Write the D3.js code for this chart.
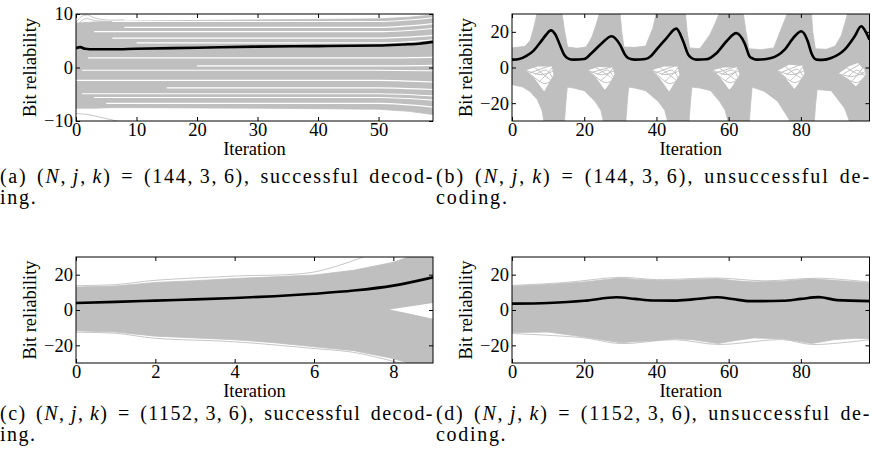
<!DOCTYPE html>
<html><head><meta charset="utf-8">
<script src="https://cdn.jsdelivr.net/npm/d3@7"></script>
<style>
body{margin:0;background:#fff}
svg{display:block}
text{font-family:"Liberation Serif","Times New Roman",serif;fill:#000}
</style></head>
<body><svg id="c" width="873" height="466"></svg>
<script>
// ================= DATA =================
// (a) N=144 successful
const aTicksX=[0,10,20,30,40,50], aTicksY=[-10,0,10];
const aMeanX=[0,0.7,1.5,3,6,10,20,30,40,50,54,57,59];
const aMeanY=[3.6,3.8,3.5,3.4,3.4,3.5,3.7,3.9,4.0,4.1,4.3,4.5,4.8];
const aEnvX=[0,3,6,10,30,50,55,59];
const aUpper=[8.3,8.5,8.6,8.7,8.9,9.1,9.4,9.8];
const aLower=[-7.6,-7.6,-7.5,-7.5,-7.6,-7.8,-8.2,-8.8];
const aGapStart=[6,8,3,6,10,2,20,1,0,15,1,3,5];
const aGapMid=[8.6,7.5,6.7,5.5,4.6,1.8,0.3,-0.5,-2.4,-3.8,-4.9,-5.6,-6.7];
const aGapEnd=[9.3,8.2,7.3,6.0,5.2,1.9,0.4,-0.6,-2.7,-4.1,-5.3,-6.1,-7.4];
const aOutliers=[
  [[0,8.4],[1,9.6],[2,9.8],[3,9.3],[5,8.9],[8,8.9]],
  [[0,7.8],[1.5,9.1],[3,8.8],[5,8.6]],
  [[0,-8.6],[2,-8.8],[4,-9.3],[6,-9.8],[8,-10.4]]
];

// (b) N=144 unsuccessful
const bTicksX=[0,20,40,60,80], bTicksY=[-20,0,20];
const bMeanX=[0,2,4,6,8,9.5,10.8,12,13.3,14.5,15.6,17,20,22,24.8,27.6,29.9,31.3,32.2,34,37,38.5,40,42.8,45.5,47.4,48.8,49.7,51,53.8,56.6,59.4,62.1,64.4,65.8,66.7,68,71.8,75.5,78.3,80.1,81.9,82.9,84.3,86,88.4,92.1,94.9,96.7,98.1,99];
const bMeanY=[4.4,4.8,6.5,9.5,14.5,18.5,20.8,18.5,12.5,7,5,4.4,4.8,8,13.5,17.5,12.8,7.2,5.3,4.4,4.8,6.5,10,16.5,21.8,14.7,7.2,5.3,4.4,4.6,8,14.7,19.3,13.7,6.2,5,4.4,5.3,10,17.5,20.3,14.7,8.1,4.4,4.3,5.3,10,17.5,23.1,19.4,15.6];
const bUpX=[0,3.6,5,6,7,13.8,14.6,15.4,18,20.5,22,23.3,24.3,29.9,30.4,31,34,37,39,40,48,48.5,49.2,52,54.8,56.3,57.5,64,64.8,65.6,69,72.5,74.6,76.4,82.9,83.3,84,87,89.5,91.2,92.5,93,99];
const bUpY=[11,11.9,15,22,31,31,20,11.5,10.8,11.5,16.5,24,31,31,20,11.5,11.3,12,22,31,31,20,11,10.5,18.4,25,31,31,20,10.5,10,11,22,31,31,20,10.5,10.2,12,18,27,31,31];
const bLoX=[0,3,5,7,8.3,8.9,14.5,14.9,15.3,17,20,23,24.6,25.4,31.5,31.9,32.3,34,37,40.5,42.3,43.2,49,49.4,49.8,52,55,57.5,59,59.9,65.7,66.1,66.5,69.9,73.6,76.4,77.3,83.7,84.1,84.5,88.4,92.1,93.6,99];
const bLoY=[-9.6,-11,-13.5,-18,-24,-31,-31,-20,-11,-11.5,-13,-19,-24,-31,-31,-20,-11,-11.5,-13,-19,-24,-31,-31,-20,-11,-11.5,-13,-19,-24,-31,-31,-20,-11,-13.4,-19,-28,-31,-31,-20,-12.4,-13,-22.8,-31,-31];
const bHoles=[
  [[3.8,-1.5],[7,0.5],[11,0.5],[11.5,-4],[9.6,-11],[8.9,-13.5],[6.2,-6]],
  [[21,-1.5],[24,0.3],[27.9,0],[28.4,-4],[26.5,-10.5],[25.7,-12.5],[23.2,-5.5]],
  [[38.8,-1.5],[42,0.5],[45.8,0.5],[46.4,-4],[44.3,-11],[43.5,-13.5],[40.9,-6]],
  [[55.5,-1.5],[58.5,0],[62.4,0],[63,-4],[61,-10.5],[60.2,-12.5],[57.6,-5.5]],
  [[73.5,-1.8],[76.7,1.5],[80.4,1],[81,-3.5],[79,-10],[78.2,-12],[75.6,-5.5]],
  [[90.4,-3.5],[93.2,0.5],[95.8,2.5],[97.6,-1.2],[98,-4],[96,-9],[95.2,-10.5],[92.8,-6]]
];
const bStrands=[
  [[3.8,-1.5],[8,-4],[11.5,-2]],[[4.2,-2],[9,-9],[11.8,-6]],[[6,0.5],[10,-6],[12,-9]],[[5,-3],[10.5,1]],[[6.5,-4],[9.5,-1.5],[11.5,-7]],[[7.5,-8],[10,-3],[11.2,0]],
  [[21,-1.5],[25,-4],[28.5,-1.5]],[[21.4,-2],[26,-8.5],[28.7,-6]],[[23,0.3],[27,-5],[28.8,-8]],[[22,-2.8],[27.5,0.3]],[[23.5,-4],[26.5,-1.5],[28.3,-6]],[[24.5,-7.5],[27,-3],[28,0]],
  [[38.8,-1.5],[42.7,-4],[46.2,-2]],[[39.2,-2],[43.7,-9],[46.5,-6]],[[40.7,0.5],[44.7,-6],[46.7,-9]],[[39.7,-3],[45.2,1]],[[41.3,-4],[44.3,-1.5],[46.3,-7]],[[42.3,-8],[44.8,-3],[46,0]],
  [[55.5,-1.5],[59.3,-4],[62.8,-2]],[[55.9,-2],[60.3,-8.5],[63.1,-6]],[[57.3,0],[61.3,-6],[63.3,-8]],[[56.3,-3],[61.8,0.3]],[[58,-4],[61,-1.5],[62.9,-6.5]],[[59,-7.5],[61.5,-3],[62.6,0]],
  [[73.5,-1.8],[77.3,-4],[80.8,-2]],[[73.9,-2.2],[78.3,-8.5],[81.1,-5]],[[75.3,1],[79.3,-5],[81.3,-7]],[[74.3,-3],[79.8,1.5]],[[76,-4],[79,-1],[80.9,-6]],[[77,-7.5],[79.5,-2.5],[80.6,0.5]],
  [[90.4,-3.5],[94.5,-5],[98,-2]],[[90.8,-3.8],[95.5,-8.5],[98.2,-4]],[[92.5,0],[96.5,-4],[98.3,-3]],[[91.5,-4],[96.5,2]],[[93,-5.5],[95.5,-1.5],[97.8,-5]],[[94,-8],[96.3,-2.5],[97.5,1]]
];

// (c) N=1152 successful
const cTicksX=[0,2,4,6,8], cTicksY=[-20,0,20];
const cMeanX=[0,1,2,3,4,5,6,7,8,9];
const cMeanY=[4,4.6,5.3,6,6.8,7.8,9.2,11,13.8,18.5];
const cEnvX=[0,1,2,3,4,5,6,7,8,8.5,9];
const cUpper=[13,13.6,15.6,16.6,17.8,18.8,19.8,22.5,27,31,31];
const cLower=[-11.8,-12.5,-14.8,-15.8,-16.8,-18.5,-20.8,-23,-27.5,-31,-31];
const cHoles=[[[7.9,0.3],[9,4],[9,-5],[8.3,-1.5]]];
const cOutliers=[
  [[0,13.8],[1,14.4],[2,16.8],[4,19.2],[6,21.5],[7.3,30.5]],
  [[0,-12.6],[1,-13.2],[2,-16],[4,-18],[6,-21.8],[7,-24],[8,-29],[8.4,-31]],
  [[7.9,0.2],[9,-1.2]]
];

// (d) N=1152 unsuccessful
const dTicksX=[0,20,40,60,80], dTicksY=[-20,0,20];
const dMeanX=[0,10,20,29,34,39,45,50,57,61,66,75,80,85,90,99];
const dMeanY=[3.6,4.0,5.2,7.2,6.3,5.4,5.3,6.0,7.2,6.2,5.0,5.2,6.3,7.3,5.6,5.0];
const dEnvX=[0,10,20,30,35,40,45,50,57,62,67,75,83,89,95,99];
const dUpper=[13.5,14.4,15.9,18.1,17.3,16.8,16.8,17.3,17.7,16.5,15.9,16.3,17.7,16.8,16,15.4];
const dLower=[-12.8,-12.5,-15.3,-18.5,-17.8,-17.2,-16.3,-16.8,-19,-17.2,-15.8,-16.3,-19,-16.8,-16,-16.3];
const dOutliers=[
  [[0,13.9],[15,15.6],[30,18.5],[40,17.2],[57,18.1],[70,16.5],[85,18],[99,15.8]],
  [[0,-13.3],[20,-15.8],[30,-19],[45,-16.8],[57,-19.5],[75,-16.8],[83,-19.5],[99,-16.8]]
];

// captions
const capLetters=["a","b","c","d"];
const capNums=["144,\u20093,\u20096","144,\u20093,\u20096","1152,\u20093,\u20096","1152,\u20093,\u20096"];
const capLine1End=["successful decod-","unsuccessful de-","successful decod-","unsuccessful de-"];
const capLine2=["ing.","coding.","ing.","coding."];

// ================= DRAW =================
const svg=d3.select("#c");
const GREY="#bfbfbf";
const FS=18.5, CFS=20;
const zip=(xs,ys)=>xs.map((v,i)=>[v,ys[i]]);

const layout=[
  {left:76,right:433,top:14,bottom:121},
  {left:512,right:869.5,top:14,bottom:121},
  {left:76,right:433,top:257,bottom:363},
  {left:512,right:869.5,top:257,bottom:363}
];

const panels=[
  {xd:[0,59],yd:[-10,10],tx:aTicksX,ty:aTicksY,
   upper:zip(aEnvX,aUpper),lower:zip(aEnvX,aLower),
   outliers:aOutliers,holes:[],strands:[],
   gaps:aGapStart.map((s,i)=>[[s,aGapMid[i]],[50,aGapMid[i]],[59,aGapEnd[i]]]),
   mean:zip(aMeanX,aMeanY)},
  {xd:[0,99],yd:[-30,30],tx:bTicksX,ty:bTicksY,
   upper:zip(bUpX,bUpY),lower:zip(bLoX,bLoY),
   outliers:[],holes:bHoles,strands:bStrands,gaps:[],
   mean:zip(bMeanX,bMeanY)},
  {xd:[0,9],yd:[-30,30],tx:cTicksX,ty:cTicksY,
   upper:zip(cEnvX,cUpper),lower:zip(cEnvX,cLower),
   outliers:cOutliers,holes:cHoles,strands:[],gaps:[],
   mean:zip(cMeanX,cMeanY)},
  {xd:[0,99],yd:[-30,30],tx:dTicksX,ty:dTicksY,
   upper:zip(dEnvX,dUpper),lower:zip(dEnvX,dLower),
   outliers:dOutliers,holes:[],strands:[],gaps:[],
   mean:zip(dMeanX,dMeanY)}
];

panels.forEach((p,i)=>{
  const L=layout[i];
  const x=d3.scaleLinear().domain(p.xd).range([L.left,L.right]);
  const y=d3.scaleLinear().domain(p.yd).range([L.bottom,L.top]);
  const cid="clip"+i;
  svg.append("clipPath").attr("id",cid).append("rect")
    .attr("x",L.left).attr("y",L.top).attr("width",L.right-L.left).attr("height",L.bottom-L.top);
  const g=svg.append("g").attr("clip-path",`url(#${cid})`);
  const mk=c=>d3.line().x(d=>x(d[0])).y(d=>y(d[1])).curve(c);
  const poly=p.upper.concat(p.lower.slice().reverse());
  g.append("path").attr("d",mk(d3.curveLinearClosed)(poly)).attr("fill",GREY).attr("stroke",GREY).attr("stroke-width",0.8);
  p.outliers.forEach(o=>g.append("path").attr("d",mk(d3.curveCatmullRom)(o)).attr("fill","none").attr("stroke",GREY).attr("stroke-width",0.9));
  p.gaps.forEach(o=>g.append("path").attr("d",mk(d3.curveMonotoneX)(o)).attr("fill","none").attr("stroke","#fff").attr("stroke-width",1.1));
  p.holes.forEach(h=>g.append("path").attr("d",mk(d3.curveLinearClosed)(h)).attr("fill","#fff"));
  p.strands.forEach(o=>g.append("path").attr("d",mk(d3.curveCatmullRom)(o)).attr("fill","none").attr("stroke",GREY).attr("stroke-width",1));
  g.append("path").attr("d",mk(d3.curveMonotoneX)(p.mean)).attr("fill","none").attr("stroke","#000").attr("stroke-width",2.6).attr("stroke-linejoin","round");
  svg.append("rect").attr("x",L.left).attr("y",L.top).attr("width",L.right-L.left).attr("height",L.bottom-L.top)
    .attr("fill","none").attr("stroke","#000").attr("stroke-width",1);
  const styleAxis=a=>{a.select(".domain").remove();a.selectAll("line").attr("stroke","#000");
    a.selectAll("text").attr("font-family","'Liberation Serif','Times New Roman',serif").attr("font-size",FS).attr("fill","#000");
    a.attr("font-family",null).attr("font-size",null);};
  svg.append("g").attr("transform",`translate(0,${L.bottom})`)
    .call(d3.axisBottom(x).tickValues(p.tx).tickSize(-4).tickPadding(2)).call(styleAxis);
  svg.append("g").attr("transform",`translate(0,${L.top})`)
    .call(d3.axisTop(x).tickValues(p.tx).tickSize(-4).tickFormat("")).call(styleAxis);
  svg.append("g").attr("transform",`translate(${L.left},0)`)
    .call(d3.axisLeft(y).tickValues(p.ty).tickSize(-4).tickPadding(3)).call(styleAxis);
  svg.append("g").attr("transform",`translate(${L.right},0)`)
    .call(d3.axisRight(y).tickValues(p.ty).tickSize(-4).tickFormat("")).call(styleAxis);
  svg.append("text").attr("x",(L.left+L.right)/2).attr("y",L.bottom+34).attr("text-anchor","middle")
    .attr("font-size",FS).text("Iteration");
  svg.append("text").attr("transform",`translate(${L.left-40},${(L.top+L.bottom)/2}) rotate(-90)`)
    .attr("text-anchor","middle").attr("font-size",FS).text("Bit reliability");
  const cx=i%2===0?0:436, cy=i<2?183:420, cw=i%2===0?434:435;
  const t=svg.append("text").attr("x",cx).attr("y",cy).attr("font-size",CFS);
  t.append("tspan").text(`(${capLetters[i]}) (`);
  t.append("tspan").attr("font-style","italic").text("N");
  t.append("tspan").text(",\u2009");
  t.append("tspan").attr("font-style","italic").text("j");
  t.append("tspan").text(",\u2009");
  t.append("tspan").attr("font-style","italic").text("k");
  t.append("tspan").text(`) = (${capNums[i]}), ${capLine1End[i]}`);
  const nat=t.node().getComputedTextLength();
  const str=t.text();
  const nSp=(str.match(/ /g)||[]).length;
  const ls=Math.max(0,(cw-nat-nSp*3)/str.length);
  t.attr("letter-spacing",ls).attr("word-spacing",3);
  const nat2=t.node().getComputedTextLength();
  t.attr("word-spacing",3+(cw-nat2)/nSp);
  svg.append("text").attr("x",cx).attr("y",cy+21).attr("font-size",CFS).attr("letter-spacing",ls).text(capLine2[i]);
});
</script>
</body></html>
